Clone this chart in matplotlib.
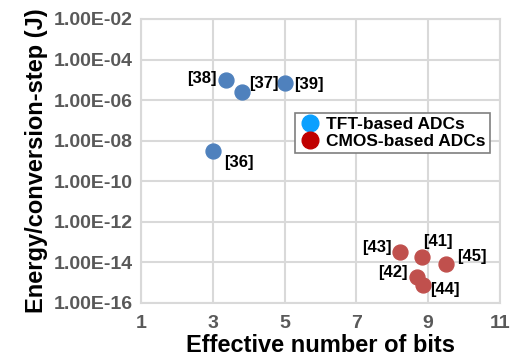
import numpy as np
import matplotlib.pyplot as plt
from matplotlib.lines import Line2D

plt.rcParams['font.family'] = ['Liberation Sans', 'DejaVu Sans']

# TFT-based ADCs
tft_enob = [3.37, 3.81, 5.01, 3.0]
tft_energy = [1.0e-5, 2.5e-6, 7.0e-6, 3.0e-9]
tft_refs = ["[38]", "[37]", "[39]", "[36]"]

# CMOS-based ADCs
cmos_enob = [8.23, 8.82, 9.5, 8.7, 8.86]
cmos_energy = [3.3e-14, 1.9e-14, 8.7e-15, 1.9e-15, 7.4e-16]
cmos_refs = ["[43]", "[41]", "[45]", "[42]", "[44]"]

# label offsets in points (dx, dy, ha)
tft_offsets = [(-7, 1, "right"), (5, 6, "left"), (7, -1, "left"), (8, -8, "left")]
cmos_offsets = [(-6, 3, "right"), (1, 11, "left"), (8, 5, "left"), (-7, 3, "right"), (5, -3, "left")]

fig = plt.figure(figsize=(5.11, 3.58), dpi=100)
ax = fig.add_axes([0.276, 0.154, 0.702, 0.793])

ax.scatter(tft_enob, tft_energy, s=115, color="#4F81BD", zorder=3)
ax.scatter(cmos_enob, cmos_energy, s=115, color="#C0504D", zorder=3)

for x, y, lab, (dx, dy, ha) in zip(tft_enob, tft_energy, tft_refs, tft_offsets):
    ax.annotate(lab, (x, y), xytext=(dx, dy), textcoords="offset points",
                ha=ha, va="center", fontsize=12, fontweight="bold")
for x, y, lab, (dx, dy, ha) in zip(cmos_enob, cmos_energy, cmos_refs, cmos_offsets):
    ax.annotate(lab, (x, y), xytext=(dx, dy), textcoords="offset points",
                ha=ha, va="center", fontsize=12, fontweight="bold")

ax.set_yscale("log")
ax.set_xlim(1, 11)
ax.set_ylim(1e-16, 1e-2)
ax.set_xticks([1, 3, 5, 7, 9, 11])
yt = [10.0 ** e for e in range(-16, -1, 2)]
ax.set_yticks(yt)
ax.set_yticklabels(["1.00E-%02d" % (-e) for e in range(-16, -1, 2)])
ax.yaxis.set_minor_locator(plt.NullLocator())
ax.tick_params(length=0, labelsize=14, labelcolor="#595959")
ax.tick_params(axis="x", pad=9)
ax.tick_params(axis="y", pad=6)
for lab in ax.get_xticklabels() + ax.get_yticklabels():
    lab.set_fontweight("bold")
ax.grid(True, color="#D9D9D9", linewidth=1.5)
ax.set_axisbelow(True)
for sp in ax.spines.values():
    sp.set_color("#D9D9D9")
    sp.set_linewidth(1.5)

ax.set_xlabel("Effective number of bits", fontsize=17, fontweight="bold", labelpad=1)
ax.set_ylabel("Energy/conversion-step (J)", fontsize=17, fontweight="bold", labelpad=4)

handles = [
    Line2D([], [], marker="o", linestyle="", markersize=12, color="#0AA0FF"),
    Line2D([], [], marker="o", linestyle="", markersize=12, color="#C00000"),
]
leg = ax.legend(handles, ["TFT-based ADCs", "CMOS-based ADCs"], loc="upper left",
                bbox_to_anchor=(0.43, 0.67), fancybox=False, framealpha=1,
                edgecolor="#7F7F7F", prop={"weight": "bold", "size": 12.5},
                handletextpad=0.3, borderpad=0.25, labelspacing=0.1, handlelength=1.2,
                borderaxespad=0)
leg.get_frame().set_linewidth(1.2)

fig.savefig("out.png", dpi=100)
